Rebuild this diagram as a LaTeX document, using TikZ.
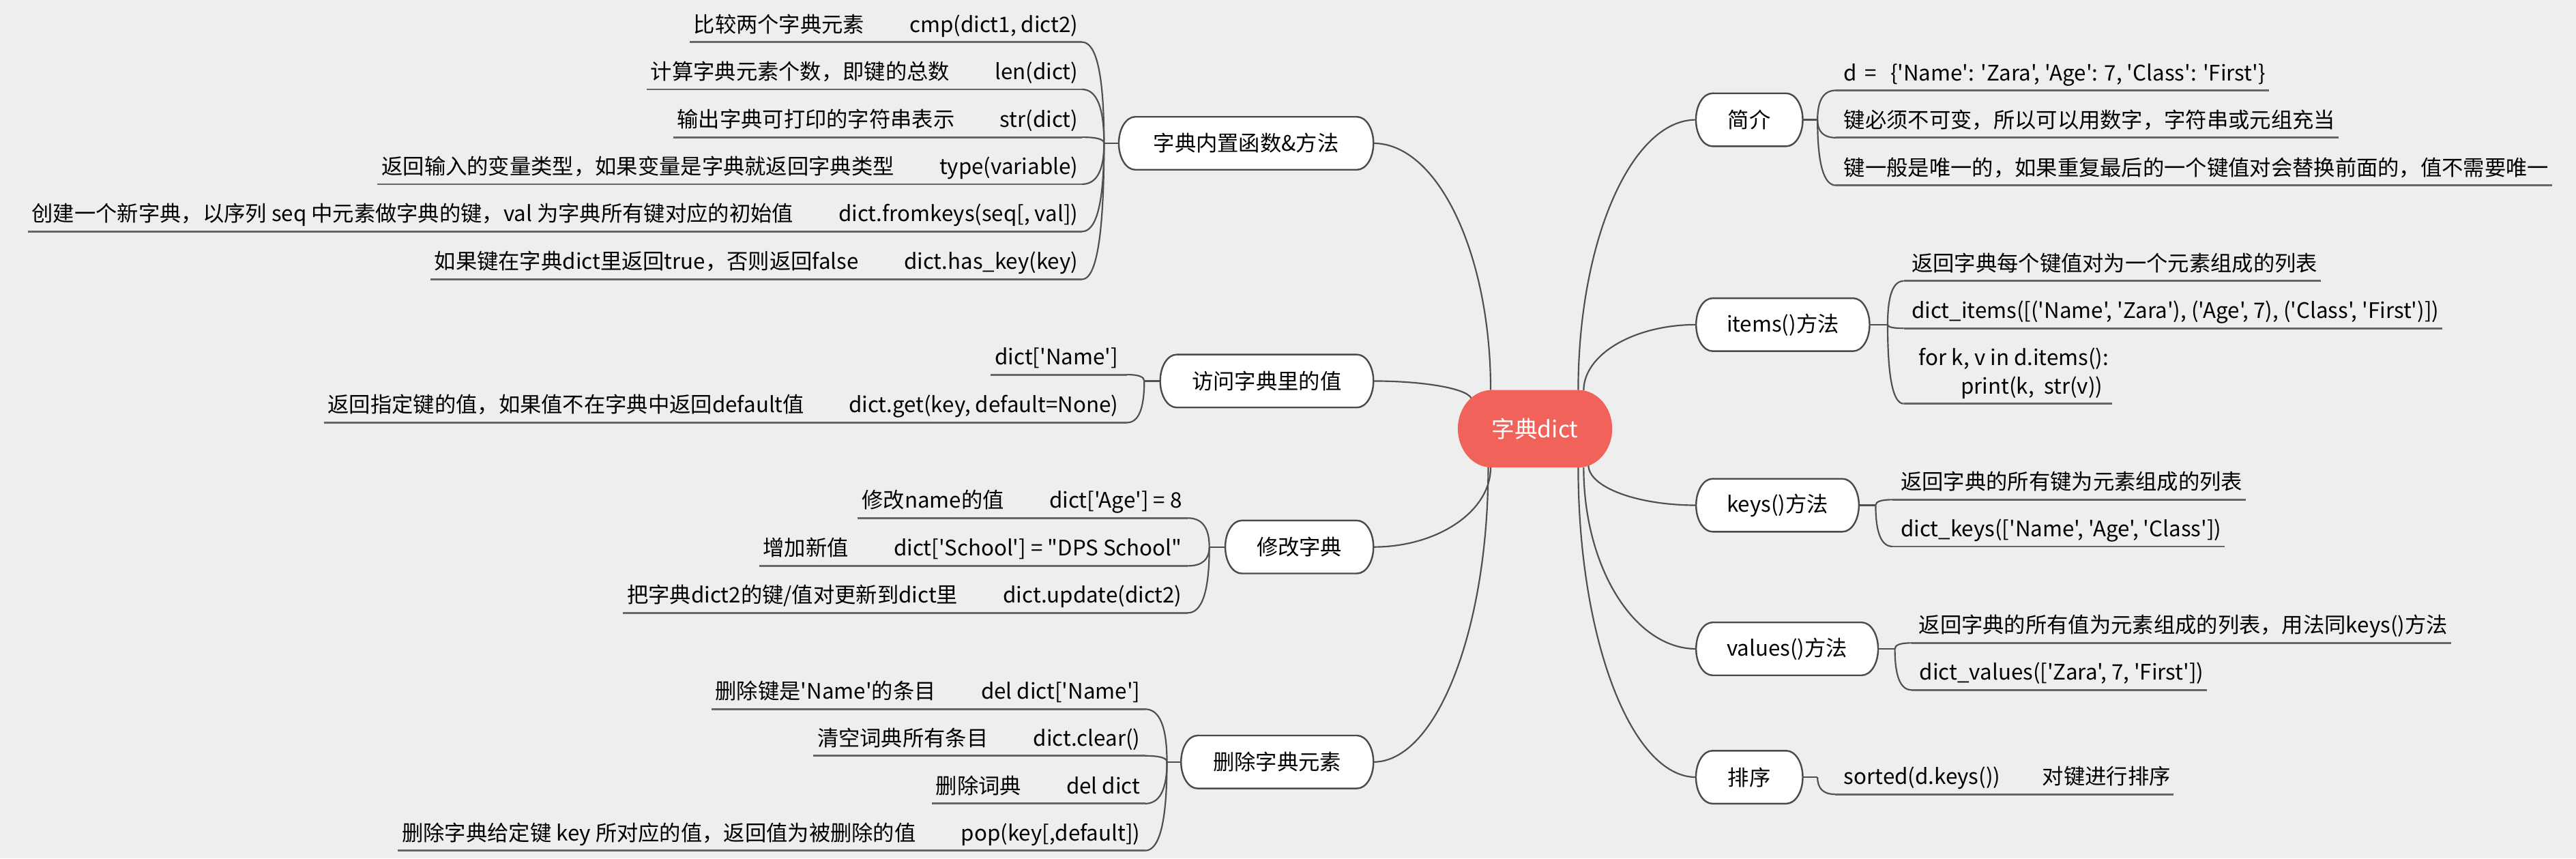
\documentclass[tikz,border=0pt]{standalone}
\usepackage{fontspec}
\newfontfamily\cjkf{Noto Sans CJK SC}
\usetikzlibrary{calc}
\definecolor{bgc}{HTML}{EEEEEE}
\definecolor{lnc}{HTML}{4F4F4F}
\definecolor{ulc}{HTML}{666666}
\definecolor{bdc}{HTML}{4A4A4A}
\definecolor{cred}{HTML}{F1625A}
\pgfdeclarelayer{bg}
\pgfsetlayers{bg,main}
\newcommand\mmcapsule[4]{\path[#4] ([xshift=#2]#1.north west) -- ([xshift=-#2]#1.north east) arc[start angle=90,end angle=-90,x radius=#2,y radius=#3] -- ([xshift=#2]#1.south west) arc[start angle=270,end angle=90,x radius=#2,y radius=#3] -- cycle;}
\newcommand\mmconn[3]{\draw[ln] (#2) .. controls ($(#2)!#1!(#2|-#3)$) and ($(#3)!#1!(#2|-#3)$) .. (#3);}
\tikzset{
  lf/.style={font=\cjkf\fontsize{13}{17.5}\selectfont, inner sep=0pt, outer sep=0pt, text=black},
  bt/.style={lf, minimum height=32.2pt},
  ln/.style={draw=lnc, line width=0.9pt},
  ul/.style={draw=ulc, line width=1.2pt},
  bubble/.style={draw=bdc, line width=1pt, fill=white},
  redbub/.style={fill=cred},
}
\begin{document}
\begin{tikzpicture}[x=1pt,y=1pt]
\useasboundingbox (0,0) rectangle (1568,-522.39);

% ---------- centre ----------
\node[lf, font=\cjkf\fontsize{14}{17}\selectfont, text=white, minimum width=94pt, minimum height=47.1pt] (c) at (934.35,-260.95) {字典dict};
\coordinate (cA) at ([xshift=-27pt]c.north);
\coordinate (cB) at ([shift={(-38.6pt,17.6pt)}]c.center);
\coordinate (cC) at ([xshift=-27pt]c.south);
\coordinate (cD) at ([xshift=-28.5pt]c.south);
\coordinate (cE) at ([xshift=26.3pt]c.north);
\coordinate (cF) at ([xshift=29.6pt,yshift=-0.3pt]c.north);
\coordinate (cG) at ([xshift=32.5pt,yshift=1.5pt]c.south);
\coordinate (cH) at ([xshift=29.6pt]c.south);
\coordinate (cI) at ([xshift=26.3pt]c.south);

% ---------- branch nodes ----------
\node[bt, minimum width=155pt]   (b1) at (758.5,-87.2)   {字典内置函数\&方法};
\node[bt, minimum width=129.8pt] (b2) at (771.1,-231.9)  {访问字典里的值};
\node[bt, minimum width=90.2pt]  (b3) at (790.9,-332.9)  {修改字典};
\node[bt, minimum width=117.1pt] (b4) at (777.45,-463.75){删除字典元素};
\node[bt, minimum width=65pt]    (r1) at (1064.8,-72.9)  {简介};
\node[bt, minimum width=105.6pt] (r2) at (1085.2,-197.6) {items()方法};
\node[bt, minimum width=99.1pt]  (r3) at (1081.95,-307.5){keys()方法};
\node[bt, minimum width=110.8pt] (r4) at (1087.8,-394.9) {values()方法};
\node[bt, minimum width=65pt]    (r5) at (1064.8,-473)   {排序};

\coordinate (s1) at ([xshift=-9pt]b1.west);
\coordinate (s2) at ([xshift=-9.7pt]b2.west);
\coordinate (s3) at ([xshift=-9.7pt]b3.west);
\coordinate (s4) at ([xshift=-8.6pt]b4.west);
\coordinate (t1) at ([xshift=9pt]r1.east);
\coordinate (t2) at ([xshift=11pt]r2.east);
\coordinate (t3) at ([xshift=10.2pt]r3.east);
\coordinate (t4) at ([xshift=10.2pt]r4.east);
\coordinate (t5) at ([xshift=9pt]r5.east);

% ---------- left group 1 ----------
\node[lf,anchor=base east] (k11) at (656.2,-19.6) {cmp(dict1, dict2)};
\node[lf,anchor=base east] (d11) at ([xshift=-27.5pt]k11.base west) {比较两个字典元素};
\node[lf,anchor=base east] (k12) at (656.2,-48.4) {len(dict)};
\node[lf,anchor=base east] (d12) at ([xshift=-27.5pt]k12.base west) {计算字典元素个数，即键的总数};
\node[lf,anchor=base east] (k13) at (656.2,-77.5) {str(dict)};
\node[lf,anchor=base east] (d13) at ([xshift=-27.5pt]k13.base west) {输出字典可打印的字符串表示};
\node[lf,anchor=base east] (k14) at (656.2,-106.1) {type(variable)};
\node[lf,anchor=base east] (d14) at ([xshift=-27.5pt]k14.base west) {返回输入的变量类型，如果变量是字典就返回字典类型};
\node[lf,anchor=base east] (k15) at (656.2,-134.9) {dict.fromkeys(seq[, val])};
\node[lf,anchor=base east] (d15) at ([xshift=-27.5pt]k15.base west) {创建一个新字典，以序列 seq 中元素做字典的键，val 为字典所有键对应的初始值};
\node[lf,anchor=base east] (k16) at (656.2,-164) {dict.has\_key(key)};
\node[lf,anchor=base east] (d16) at ([xshift=-27.5pt]k16.base west) {如果键在字典dict里返回true，否则返回false};
\coordinate (e11) at (658.6,-25.6);
\coordinate (e12) at (658.6,-54.4);
\coordinate (e13) at (658.6,-83.5);
\coordinate (e14) at (658.6,-112.1);
\coordinate (e15) at (658.6,-140.9);
\coordinate (e16) at (658.6,-170);

% ---------- left group 2 ----------
\node[lf,anchor=base east] (k21) at (680.6,-222) {dict['Name']};
\node[lf,anchor=base east] (k22) at (680.8,-251.2) {dict.get(key, default=None)};
\node[lf,anchor=base east] (d22) at ([xshift=-27pt]k22.base west) {返回指定键的值，如果值不在字典中返回default值};
\coordinate (e21) at (686,-228);
\coordinate (e22) at (686,-257.2);

% ---------- left group 3 ----------
\node[lf,anchor=base east] (k31) at (719.4,-309.3) {dict['Age'] = 8};
\node[lf,anchor=base east] (d31) at ([xshift=-27.5pt]k31.base west) {修改name的值};
\node[lf,anchor=base east] (k32) at (719.4,-338.4) {dict['School'] = "DPS School"};
\node[lf,anchor=base east] (d32) at ([xshift=-27.5pt]k32.base west) {增加新值};
\node[lf,anchor=base east] (k33) at (719.4,-367) {dict.update(dict2)};
\node[lf,anchor=base east] (d33) at ([xshift=-27.5pt]k33.base west) {把字典dict2的键/值对更新到dict里};
\coordinate (e31) at (723,-315.3);
\coordinate (e32) at (723,-344.4);
\coordinate (e33) at (723,-373);

% ---------- left group 4 ----------
\node[lf,anchor=base east] (k41) at (694,-425.6) {del dict['Name']};
\node[lf,anchor=base east] (d41) at ([xshift=-27.5pt]k41.base west) {删除键是'Name'的条目};
\node[lf,anchor=base east] (k42) at (694,-454) {dict.clear()};
\node[lf,anchor=base east] (d42) at ([xshift=-27.5pt]k42.base west) {清空词典所有条目};
\node[lf,anchor=base east] (k43) at (694,-483.1) {del dict};
\node[lf,anchor=base east] (d43) at ([xshift=-27.5pt]k43.base west) {删除词典};
\node[lf,anchor=base east] (k44) at (694,-511.7) {pop(key[,default])};
\node[lf,anchor=base east] (d44) at ([xshift=-27.5pt]k44.base west) {删除字典给定键 key 所对应的值，返回值为被删除的值};
\coordinate (e41) at (697,-431.6);
\coordinate (e42) at (697,-460);
\coordinate (e43) at (697,-489.1);
\coordinate (e44) at (697,-517.7);

% ---------- right group 1 ----------
\node[lf,anchor=base west] (n11) at (1122.4,-49) {d\hspace{4.5pt}=\hspace{8.5pt}\{'Name': 'Zara', 'Age': 7, 'Class': 'First'\}};
\node[lf,anchor=base west] (n12) at (1122.4,-77.8) {键必须不可变，所以可以用数字，字符串或元组充当};
\node[lf,anchor=base west] (n13) at (1122.4,-106.8) {键一般是唯一的，如果重复最后的一个键值对会替换前面的，值不需要唯一};
\coordinate (f11) at (1117.5,-55);
\coordinate (f12) at (1117.5,-83.8);
\coordinate (f13) at (1117.5,-112.8);

% ---------- right group 2 ----------
\node[lf,anchor=base west] (n21) at (1163.6,-165) {返回字典每个键值对为一个元素组成的列表};
\node[lf,anchor=base west] (n22) at (1163.6,-193.8) {dict\_items([('Name', 'Zara'), ('Age', 7), ('Class', 'First')])};
\node[lf,anchor=base west,align=left] (n23) at (1168,-239.7) {for k, v in d.items():\\\hspace*{25.5pt}print(k,\ \ str(v))};
\coordinate (f21) at (1158.8,-171);
\coordinate (f22) at (1158.8,-199.8);
\coordinate (f23) at (1158.8,-245.7);

% ---------- right group 3 ----------
\node[lf,anchor=base west] (n31) at (1157,-298.1) {返回字典的所有键为元素组成的列表};
\node[lf,anchor=base west] (n32) at (1157,-326.6) {dict\_keys(['Name', 'Age', 'Class'])};
\coordinate (f31) at (1152,-304.1);
\coordinate (f32) at (1152,-332.6);

% ---------- right group 4 ----------
\node[lf,anchor=base west] (n41) at (1168,-385.3) {返回字典的所有值为元素组成的列表，用法同keys()方法};
\node[lf,anchor=base west] (n42) at (1168.5,-413.9) {dict\_values(['Zara', 7, 'First'])};
\coordinate (f41) at (1163.5,-391.3);
\coordinate (f42) at (1163.5,-419.9);

% ---------- right group 5 ----------
\node[lf,anchor=base west] (n51) at (1122.4,-477.4) {sorted(d.keys())};
\node[lf,anchor=base west] (m51) at ([xshift=25.5pt]n51.base east) {对键进行排序};
\coordinate (f51) at (1117,-483.4);

\begin{pgfonlayer}{bg}
  \fill[bgc] (0,0) rectangle (1568,-522.39);
  % centre to branches
  \mmconn{0.55}{cA}{b1.east}
  \mmconn{0.55}{cB}{b2.east}
  \mmconn{0.55}{cC}{b3.east}
  \mmconn{0.55}{cD}{b4.east}
  \mmconn{0.55}{cE}{r1.west}
  \mmconn{0.55}{cF}{r2.west}
  \mmconn{0.55}{cG}{r3.west}
  \mmconn{0.55}{cH}{r4.west}
  \mmconn{0.55}{cI}{r5.west}
  % stubs
  \draw[ln] (b1.west) -- (s1);
  \draw[ln] (b2.west) -- (s2);
  \draw[ln] (b3.west) -- (s3);
  \draw[ln] (b4.west) -- (s4);
  \draw[ln] (r1.east) -- (t1);
  \draw[ln] (r2.east) -- (t2);
  \draw[ln] (r3.east) -- (t3);
  \draw[ln] (r4.east) -- (t4);
  \draw[ln] (r5.east) -- (t5);
  % leaf connectors
  \mmconn{0.667}{s1}{e11} \mmconn{0.667}{s1}{e12} \mmconn{0.667}{s1}{e13}
  \mmconn{0.667}{s1}{e14} \mmconn{0.667}{s1}{e15} \mmconn{0.667}{s1}{e16}
  \mmconn{0.667}{s2}{e21} \mmconn{0.667}{s2}{e22}
  \mmconn{0.667}{s3}{e31} \mmconn{0.667}{s3}{e32} \mmconn{0.667}{s3}{e33}
  \mmconn{0.667}{s4}{e41} \mmconn{0.667}{s4}{e42} \mmconn{0.667}{s4}{e43} \mmconn{0.667}{s4}{e44}
  \mmconn{0.667}{t1}{f11} \mmconn{0.667}{t1}{f12} \mmconn{0.667}{t1}{f13}
  \mmconn{0.667}{t2}{f21} \mmconn{0.667}{t2}{f22} \mmconn{0.667}{t2}{f23}
  \mmconn{0.667}{t3}{f31} \mmconn{0.667}{t3}{f32}
  \mmconn{0.667}{t4}{f41} \mmconn{0.667}{t4}{f42}
  \mmconn{0.667}{t5}{f51}
  % underlines (left)
  \draw[ul] (e11) -- (e11 -| d11.west) -- ++(-2.5pt,0);
  \draw[ul] (e12) -- (e12 -| d12.west) -- ++(-2.5pt,0);
  \draw[ul] (e13) -- (e13 -| d13.west) -- ++(-2.5pt,0);
  \draw[ul] (e14) -- (e14 -| d14.west) -- ++(-2.5pt,0);
  \draw[ul] (e15) -- (e15 -| d15.west) -- ++(-2.5pt,0);
  \draw[ul] (e16) -- (e16 -| d16.west) -- ++(-2.5pt,0);
  \draw[ul] (e21) -- (e21 -| k21.west) -- ++(-2.5pt,0);
  \draw[ul] (e22) -- (e22 -| d22.west) -- ++(-2.5pt,0);
  \draw[ul] (e31) -- (e31 -| d31.west) -- ++(-2.5pt,0);
  \draw[ul] (e32) -- (e32 -| d32.west) -- ++(-2.5pt,0);
  \draw[ul] (e33) -- (e33 -| d33.west) -- ++(-2.5pt,0);
  \draw[ul] (e41) -- (e41 -| d41.west) -- ++(-2.5pt,0);
  \draw[ul] (e42) -- (e42 -| d42.west) -- ++(-2.5pt,0);
  \draw[ul] (e43) -- (e43 -| d43.west) -- ++(-2.5pt,0);
  \draw[ul] (e44) -- (e44 -| d44.west) -- ++(-2.5pt,0);
  % underlines (right)
  \draw[ul] (f11) -- (f11 -| n11.east) -- ++(2pt,0);
  \draw[ul] (f12) -- (f12 -| n12.east) -- ++(2pt,0);
  \draw[ul] (f13) -- (f13 -| n13.east) -- ++(2pt,0);
  \draw[ul] (f21) -- (f21 -| n21.east) -- ++(2pt,0);
  \draw[ul] (f22) -- (f22 -| n22.east) -- ++(2pt,0);
  \draw[ul] (f23) -- (f23 -| n23.east) -- ++(2pt,0);
  \draw[ul] (f31) -- (f31 -| n31.east) -- ++(2pt,0);
  \draw[ul] (f32) -- (f32 -| n32.east) -- ++(2pt,0);
  \draw[ul] (f41) -- (f41 -| n41.east) -- ++(2pt,0);
  \draw[ul] (f42) -- (f42 -| n42.east) -- ++(2pt,0);
  \draw[ul] (f51) -- (f51 -| m51.east) -- ++(2pt,0);
  % node shapes
  \mmcapsule{c}{20.5pt}{23.55pt}{redbub}
  \mmcapsule{b1}{10pt}{16.1pt}{bubble}
  \mmcapsule{b2}{10pt}{16.1pt}{bubble}
  \mmcapsule{b3}{10pt}{16.1pt}{bubble}
  \mmcapsule{b4}{10pt}{16.1pt}{bubble}
  \mmcapsule{r1}{10pt}{16.1pt}{bubble}
  \mmcapsule{r2}{10pt}{16.1pt}{bubble}
  \mmcapsule{r3}{10pt}{16.1pt}{bubble}
  \mmcapsule{r4}{10pt}{16.1pt}{bubble}
  \mmcapsule{r5}{10pt}{16.1pt}{bubble}
\end{pgfonlayer}
\end{tikzpicture}
\end{document}
